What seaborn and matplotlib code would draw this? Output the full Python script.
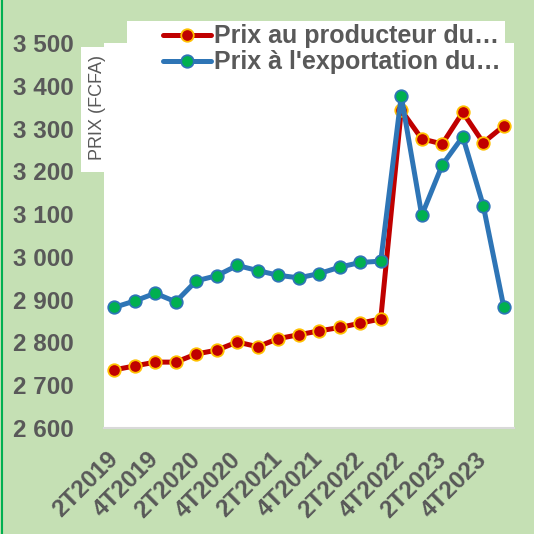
import matplotlib.pyplot as plt
import matplotlib.transforms as mtransforms
from matplotlib.patches import Rectangle
from matplotlib.lines import Line2D
import seaborn as sns
import pandas as pd

quarters = ["2T2019", "3T2019", "4T2019",
            "1T2020", "2T2020", "3T2020", "4T2020",
            "1T2021", "2T2021", "3T2021", "4T2021",
            "1T2022", "2T2022", "3T2022", "4T2022",
            "1T2023", "2T2023", "3T2023", "4T2023",
            "1T2024"]
prix_producteur = [2736, 2745, 2754, 2754, 2773, 2782, 2801, 2790, 2809, 2818,
                   2827, 2835, 2845, 2855, 3343, 3276, 3264, 3338, 3267, 3306]
prix_export = [2882, 2897, 2915, 2895, 2944, 2956, 2980, 2968, 2957, 2951,
               2961, 2976, 2987, 2990, 3376, 3097, 3215, 3281, 3120, 2883]
yticks = [2600, 2700, 2800, 2900, 3000, 3100, 3200, 3300, 3400, 3500]
label_prod = "Prix au producteur du…"
label_export = "Prix à l'exportation du…"
ylabel = "PRIX (FCFA)"

df = pd.DataFrame({"pos": range(len(quarters)), "quarter": quarters,
                   "prod": prix_producteur, "export": prix_export})

sns.set_theme(style="white")
plt.rcParams["font.family"] = ["Liberation Sans", "DejaVu Sans"]
grey = "#595959"
bg = "#C5E0B4"

W = 534
fig = plt.figure(figsize=(5.34, 5.34), dpi=100, facecolor=bg)
ax = fig.add_axes([104 / W, 1 - 428 / W, 410 / W, 385 / W])
ax.set_facecolor("white")

sns.lineplot(data=df, x="pos", y="prod", ax=ax, color="#C00000", lw=3.6,
             marker="o", markersize=9, markerfacecolor="#C00000",
             markeredgecolor="#FFC000", markeredgewidth=1.3, label=label_prod)
sns.lineplot(data=df, x="pos", y="export", ax=ax, color="#2E75B6", lw=3.6,
             marker="o", markersize=9, markerfacecolor="#00B050",
             markeredgecolor="#2E75B6", markeredgewidth=1.3, label=label_export)

ax.set_xlim(-0.5, len(quarters) - 0.5)
ax.set_ylim(2600, 3500)
ax.set_yticks(yticks)
ax.set_yticklabels([f"{v:,}".replace(",", " ") for v in yticks],
                   fontsize=17.5, fontweight="bold", color=grey)
ax.set_xticks(df.pos[::2])
ax.set_xticklabels(df.quarter[::2], rotation=45, ha="right",
                   rotation_mode="anchor", va="center",
                   fontsize=17.5, fontweight="bold", color=grey)
offset = mtransforms.ScaledTranslation(-4 / 100, 0, fig.dpi_scale_trans)
for lbl in ax.get_xticklabels():
    lbl.set_transform(lbl.get_transform() + offset)
ax.tick_params(axis="y", length=0, pad=22)
ax.tick_params(axis="x", length=0, pad=20)
ax.set_xlabel("")
ax.set_ylabel("")
for s in ["top", "right", "left"]:
    ax.spines[s].set_visible(False)
ax.spines["bottom"].set_color("#D9D9D9")
ax.spines["bottom"].set_linewidth(1.5)

# white boxes behind legend and y label
fig.patches.append(Rectangle((127 / W, 1 - 75 / W), 378 / W, 54 / W,
                             transform=fig.transFigure, facecolor="white",
                             edgecolor="none", zorder=-1))
fig.patches.append(Rectangle((81 / W, 1 - 172 / W), 23 / W, 125 / W,
                             transform=fig.transFigure, facecolor="white",
                             edgecolor="none", zorder=-1))
fig.text(97 / W, 1 - 108 / W, ylabel, rotation=90, ha="center", va="center",
         fontsize=13, color=grey)
# left border
fig.add_artist(Line2D([2 / W, 2 / W], [0, 1], transform=fig.transFigure,
                      color="#00B050", lw=1.5))

leg = ax.legend(loc="upper right", bbox_to_anchor=(518 / W, 1 - 7 / W),
                bbox_transform=fig.transFigure, frameon=False,
                prop={"size": 18, "weight": "bold"}, handlelength=1.9,
                handletextpad=0.12, labelspacing=0.08, borderpad=0.2)
for t in leg.get_texts():
    t.set_color(grey)

fig.savefig("out.png", dpi=100, facecolor=bg)
